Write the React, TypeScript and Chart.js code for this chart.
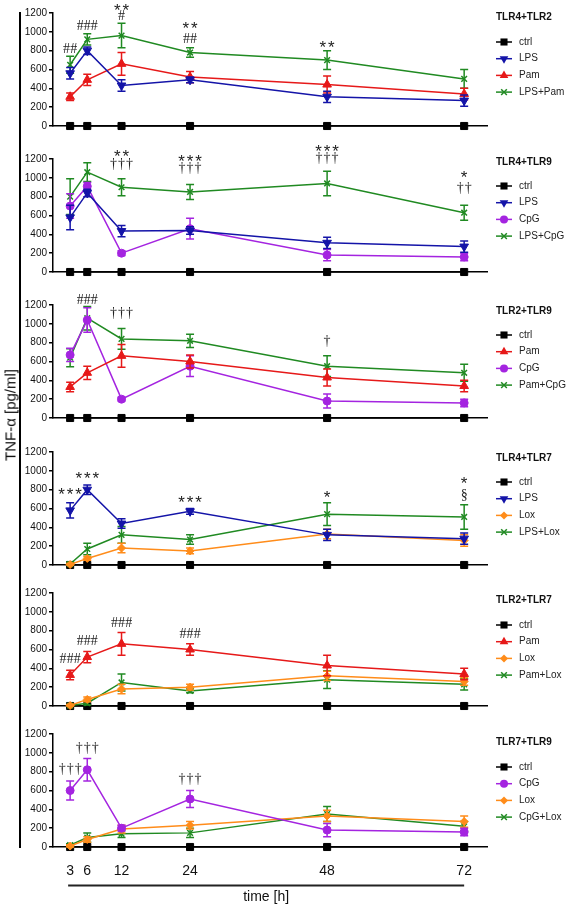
import React, { useEffect, useRef } from "react";
import { Chart, registerables } from "chart.js";

Chart.register(...registerables);

// ---------------- data ----------------
const HOURS = [3, 6, 12, 24, 48, 72];
const X_TICKS = [3, 6, 12, 24, 48, 72];
const Y_TICKS = [0, 200, 400, 600, 800, 1000, 1200];

const ctrlVals = [0, 0, 0, 0, 0, 0];

// Panel 1: TLR4+TLR2
const p1LPS = [560, 800, 430, 490, 310, 270];
const p1LPSErr = [60, 40, 60, 30, 60, 60];
const p1Pam = [310, 490, 660, 520, 440, 340];
const p1PamErr = [40, 60, 120, 60, 90, 60];
const p1Combo = [650, 920, 960, 780, 700, 500];
const p1ComboErr = [90, 60, 130, 50, 100, 100];
const p1Notes: [number, string, number][] = [
  [3, "##", 828], [6, "###", 1073], [12, "**", 1274], [12, "#", 1179],
  [24, "**", 1073], [24, "##", 935], [48, "**", 881],
];

// Panel 2: TLR4+TLR9
const p2LPS = [580, 840, 435, 440, 310, 270];
const p2LPSErr = [130, 40, 60, 40, 60, 60];
const p2CpG = [700, 910, 200, 460, 180, 160];
const p2CpGErr = [130, 40, 25, 110, 60, 40];
const p2Combo = [800, 1060, 900, 850, 940, 630];
const p2ComboErr = [190, 100, 90, 80, 130, 80];
const p2Notes: [number, string, number][] = [
  [12, "**", 1264], [12, "†††", 1147], [24, "***", 1221], [24, "†††", 1104],
  [48, "***", 1327], [48, "†††", 1211], [72, "*", 1051], [72, "††", 892],
];

// Panel 3: TLR2+TLR9
const p3Pam = [330, 480, 660, 600, 430, 340];
const p3PamErr = [50, 70, 120, 70, 90, 60];
const p3CpG = [670, 1040, 200, 550, 180, 160];
const p3CpGErr = [70, 130, 20, 110, 75, 40];
const p3Combo = [640, 1060, 840, 820, 550, 480];
const p3ComboErr = [95, 125, 110, 70, 110, 90];
const p3Notes: [number, string, number][] = [
  [6, "###", 1256], [12, "†††", 1108], [48, "†", 815],
];

// Panel 4: TLR4+TLR7
const p4LPS = [580, 800, 440, 570, 320, 280];
const p4LPSErr = [80, 50, 50, 30, 60, 60];
const p4Lox = [5, 70, 180, 150, 330, 260];
const p4LoxErr = [10, 20, 50, 30, 50, 60];
const p4Combo = [10, 170, 320, 270, 540, 510];
const p4ComboErr = [20, 60, 90, 50, 120, 130];
const p4Notes: [number, string, number][] = [
  [3, "***", 789], [6, "***", 961], [24, "***", 704], [48, "*", 757],
  [72, "*", 907], [72, "§", 746],
];

// Panel 5: TLR2+TLR7
const p5Pam = [330, 520, 660, 600, 430, 340];
const p5PamErr = [50, 60, 120, 60, 110, 60];
const p5Lox = [5, 70, 180, 200, 320, 260];
const p5LoxErr = [10, 25, 50, 30, 50, 40];
const p5Combo = [5, 30, 250, 160, 280, 230];
const p5ComboErr = [10, 20, 90, 20, 95, 60];
const p5Notes: [number, string, number][] = [
  [3, "###", 511], [6, "###", 703], [12, "###", 887], [24, "###", 767],
];

// Panel 6: TLR7+TLR9
const p6CpG = [600, 820, 200, 510, 180, 160];
const p6CpGErr = [100, 120, 30, 90, 70, 40];
const p6Lox = [10, 80, 190, 230, 330, 270];
const p6LoxErr = [15, 30, 40, 40, 60, 60];
const p6Combo = [20, 100, 140, 150, 350, 220];
const p6ComboErr = [15, 50, 40, 50, 80, 50];
const p6Notes: [number, string, number][] = [
  [3, "†††", 829], [6, "†††", 1052], [24, "†††", 723],
];

// ---------------- styles ----------------
const SANS = '"Liberation Sans", Arial, sans-serif';
const SERIF = '"Liberation Serif", "Times New Roman", serif';

type Sty = { color: string; point: string; rot: number; r: number };
const S_CTRL: Sty = { color: "#000000", point: "rect", rot: 0, r: 5 };
const S_LPS: Sty = { color: "#1414a8", point: "triangle", rot: 180, r: 5 };
const S_PAM: Sty = { color: "#e61919", point: "triangle", rot: 0, r: 5 };
const S_CPG: Sty = { color: "#a424e0", point: "circle", rot: 0, r: 4 };
const S_LOX: Sty = { color: "#ff8c1a", point: "rectRot", rot: 0, r: 4 };
const S_COMBO: Sty = { color: "#208a22", point: "crossRot", rot: 0, r: 4 };

type Series = { label: string; vals: number[]; err: number[] | null; sty: Sty };
type Panel = {
  title: string;
  top: number;
  series: Series[];
  notes: [number, string, number][];
  legTitle: number;
  legFirst: number;
};

const PLOT_H = 113;
const PAD_T = 30;

const PANELS: Panel[] = [
  {
    title: "TLR4+TLR2", top: 13, legTitle: 4, legFirst: 29, notes: p1Notes,
    series: [
      { label: "ctrl", vals: ctrlVals, err: null, sty: S_CTRL },
      { label: "LPS", vals: p1LPS, err: p1LPSErr, sty: S_LPS },
      { label: "Pam", vals: p1Pam, err: p1PamErr, sty: S_PAM },
      { label: "LPS+Pam", vals: p1Combo, err: p1ComboErr, sty: S_COMBO },
    ],
  },
  {
    title: "TLR4+TLR9", top: 159, legTitle: 3, legFirst: 27, notes: p2Notes,
    series: [
      { label: "ctrl", vals: ctrlVals, err: null, sty: S_CTRL },
      { label: "LPS", vals: p2LPS, err: p2LPSErr, sty: S_LPS },
      { label: "CpG", vals: p2CpG, err: p2CpGErr, sty: S_CPG },
      { label: "LPS+CpG", vals: p2Combo, err: p2ComboErr, sty: S_COMBO },
    ],
  },
  {
    title: "TLR2+TLR9", top: 305, legTitle: 6, legFirst: 30, notes: p3Notes,
    series: [
      { label: "ctrl", vals: ctrlVals, err: null, sty: S_CTRL },
      { label: "Pam", vals: p3Pam, err: p3PamErr, sty: S_PAM },
      { label: "CpG", vals: p3CpG, err: p3CpGErr, sty: S_CPG },
      { label: "Pam+CpG", vals: p3Combo, err: p3ComboErr, sty: S_COMBO },
    ],
  },
  {
    title: "TLR4+TLR7", top: 452, legTitle: 6, legFirst: 30, notes: p4Notes,
    series: [
      { label: "ctrl", vals: ctrlVals, err: null, sty: S_CTRL },
      { label: "LPS", vals: p4LPS, err: p4LPSErr, sty: S_LPS },
      { label: "Lox", vals: p4Lox, err: p4LoxErr, sty: S_LOX },
      { label: "LPS+Lox", vals: p4Combo, err: p4ComboErr, sty: S_COMBO },
    ],
  },
  {
    title: "TLR2+TLR7", top: 593, legTitle: 7, legFirst: 32, notes: p5Notes,
    series: [
      { label: "ctrl", vals: ctrlVals, err: null, sty: S_CTRL },
      { label: "Pam", vals: p5Pam, err: p5PamErr, sty: S_PAM },
      { label: "Lox", vals: p5Lox, err: p5LoxErr, sty: S_LOX },
      { label: "Pam+Lox", vals: p5Combo, err: p5ComboErr, sty: S_COMBO },
    ],
  },
  {
    title: "TLR7+TLR9", top: 734, legTitle: 8, legFirst: 33, notes: p6Notes,
    series: [
      { label: "ctrl", vals: ctrlVals, err: null, sty: S_CTRL },
      { label: "CpG", vals: p6CpG, err: p6CpGErr, sty: S_CPG },
      { label: "Lox", vals: p6Lox, err: p6LoxErr, sty: S_LOX },
      { label: "CpG+Lox", vals: p6Combo, err: p6ComboErr, sty: S_COMBO },
    ],
  },
];

// ---------------- drawing helpers ----------------
function drawMarker(ctx: CanvasRenderingContext2D, sty: Sty, x: number, y: number) {
  const r = sty.r;
  ctx.save();
  ctx.fillStyle = sty.color;
  ctx.strokeStyle = sty.color;
  ctx.lineWidth = 1.5;
  ctx.beginPath();
  if (sty.point === "rect") {
    const s = r * Math.SQRT1_2;
    ctx.rect(x - s, y - s, 2 * s, 2 * s);
    ctx.fill();
  } else if (sty.point === "triangle") {
    let rad = (sty.rot * Math.PI) / 180;
    ctx.moveTo(x + Math.sin(rad) * r, y - Math.cos(rad) * r);
    rad += (2 * Math.PI) / 3;
    ctx.lineTo(x + Math.sin(rad) * r, y - Math.cos(rad) * r);
    rad += (2 * Math.PI) / 3;
    ctx.lineTo(x + Math.sin(rad) * r, y - Math.cos(rad) * r);
    ctx.closePath();
    ctx.fill();
  } else if (sty.point === "circle") {
    ctx.arc(x, y, r, 0, Math.PI * 2);
    ctx.fill();
  } else if (sty.point === "rectRot") {
    ctx.moveTo(x, y - r);
    ctx.lineTo(x + r, y);
    ctx.lineTo(x, y + r);
    ctx.lineTo(x - r, y);
    ctx.closePath();
    ctx.fill();
  } else if (sty.point === "crossRot") {
    const d = r * Math.SQRT1_2;
    ctx.moveTo(x - d, y - d);
    ctx.lineTo(x + d, y + d);
    ctx.moveTo(x + d, y - d);
    ctx.lineTo(x - d, y + d);
    ctx.stroke();
  }
  ctx.restore();
}

function charFont(c: string) {
  if (c === "*") return { font: `17px ${SANS}`, off: 9.5, pitch: 8.5 };
  if (c === "#") return { font: `14px ${SERIF}`, off: 4.7, pitch: 7.1 };
  return { font: `14px ${SERIF}`, off: 3.8, pitch: 8 };
}

function drawNote(ctx: CanvasRenderingContext2D, text: string, cx: number, cy: number) {
  const chars = Array.from(text);
  const n = chars.length;
  const pitch = charFont(chars[0]).pitch;
  ctx.save();
  ctx.fillStyle = "#222222";
  ctx.textAlign = "center";
  ctx.textBaseline = "alphabetic";
  chars.forEach((c, i) => {
    const f = charFont(c);
    ctx.font = f.font;
    ctx.fillText(c, cx + (i - (n - 1) / 2) * pitch, cy + f.off);
  });
  ctx.restore();
}

const decorPlugin = {
  id: "panelDecor",
  afterDatasetDraw(chart: any, args: any) {
    const ds = chart.data.datasets[args.index];
    const err: number[] | null = ds.errors;
    if (!err) return;
    const ctx: CanvasRenderingContext2D = chart.ctx;
    const xs = chart.scales.x;
    const ys = chart.scales.y;
    ctx.save();
    ctx.strokeStyle = ds.borderColor;
    ctx.lineWidth = 1.5;
    ds.data.forEach((p: any, i: number) => {
      const e = err[i];
      if (!e) return;
      const px = xs.getPixelForValue(p.x);
      const yt = ys.getPixelForValue(p.y + e);
      const yb = Math.min(ys.getPixelForValue(Math.max(0, p.y - e)), chart.chartArea.bottom);
      ctx.beginPath();
      ctx.moveTo(px, yt);
      ctx.lineTo(px, yb);
      ctx.moveTo(px - 4, yt);
      ctx.lineTo(px + 4, yt);
      ctx.moveTo(px - 4, yb);
      ctx.lineTo(px + 4, yb);
      ctx.stroke();
    });
    ctx.restore();
  },
  afterDraw(chart: any) {
    const opts = chart.options.plugins.panelDecor;
    const panel: Panel = opts.panel;
    const ctx: CanvasRenderingContext2D = chart.ctx;
    const xs = chart.scales.x;
    const ys = chart.scales.y;
    const top = chart.chartArea.top;

    // significance annotations
    panel.notes.forEach(([h, txt, lvl]) => {
      drawNote(ctx, txt, xs.getPixelForValue(h), ys.getPixelForValue(lvl));
    });

    // legend
    const lx = 496;
    ctx.save();
    ctx.fillStyle = "#111111";
    ctx.font = `bold 10px ${SANS}`;
    ctx.textAlign = "left";
    ctx.textBaseline = "middle";
    ctx.fillText(panel.title, lx, top + panel.legTitle);
    ctx.font = `10px ${SANS}`;
    panel.series.forEach((s, i) => {
      const y = top + panel.legFirst + i * 16.7;
      ctx.strokeStyle = s.sty.color;
      ctx.lineWidth = 1.5;
      ctx.beginPath();
      ctx.moveTo(lx, y);
      ctx.lineTo(lx + 16, y);
      ctx.stroke();
      drawMarker(ctx, s.sty, lx + 8, y);
      ctx.fillStyle = "#222222";
      ctx.fillText(s.label, 519, y);
    });
    ctx.restore();

    // bottom time axis decoration
    if (opts.isLast) {
      const x0 = xs.getPixelForValue(X_TICKS[0]) - 2;
      const x1 = xs.getPixelForValue(X_TICKS[X_TICKS.length - 1]);
      const yb = chart.chartArea.bottom + 38.5;
      ctx.save();
      ctx.strokeStyle = "#222222";
      ctx.lineWidth = 2;
      ctx.beginPath();
      ctx.moveTo(x0, yb);
      ctx.lineTo(x1, yb);
      ctx.stroke();
      ctx.fillStyle = "#111111";
      ctx.font = `14px ${SANS}`;
      ctx.textAlign = "center";
      ctx.textBaseline = "middle";
      ctx.fillText("time [h]", (x0 + x1) / 2, yb + 12);
      ctx.restore();
    }
  },
};

function makeConfig(panel: Panel, isLast: boolean): any {
  const datasets = panel.series.map((s) => ({
    label: s.label,
    data: HOURS.map((h, i) => ({ x: h, y: s.vals[i] })),
    errors: s.err,
    borderColor: s.sty.color,
    backgroundColor: s.sty.color,
    pointBackgroundColor: s.sty.color,
    pointBorderColor: s.sty.color,
    pointStyle: s.sty.point,
    pointRotation: s.sty.rot,
    pointRadius: s.sty.r,
    pointBorderWidth: s.sty.point === "crossRot" ? 1.5 : 1,
    borderWidth: 1.5,
    tension: 0,
    fill: false,
    clip: false,
    order: s.label === "ctrl" ? 1 : 0,
  }));
  return {
    type: "line",
    data: { datasets },
    plugins: [decorPlugin],
    options: {
      animation: false,
      responsive: false,
      maintainAspectRatio: false,
      events: [],
      layout: { padding: { top: PAD_T, right: 80, left: 0, bottom: 0 } },
      plugins: {
        legend: { display: false },
        tooltip: { enabled: false },
        panelDecor: { panel, isLast },
      },
      scales: {
        x: {
          type: "linear",
          min: 0,
          max: 76,
          afterBuildTicks: (s: any) => {
            s.ticks = X_TICKS.map((v) => ({ value: v }));
          },
          afterFit: (s: any) => {
            s.height = isLast ? 59 : 16;
          },
          grid: { display: false, drawTicks: false },
          border: { display: true, color: "#000000", width: 1.5 },
          ticks: {
            display: isLast,
            color: "#111111",
            font: { size: 14, family: SANS },
            padding: 16,
            maxRotation: 0,
            autoSkip: false,
            callback: (v: any) => String(v),
          },
        },
        y: {
          min: 0,
          max: 1200,
          afterBuildTicks: (s: any) => {
            s.ticks = Y_TICKS.map((v) => ({ value: v }));
          },
          afterFit: (s: any) => {
            s.width = 53;
          },
          grid: {
            display: true,
            drawOnChartArea: false,
            drawTicks: true,
            tickLength: 4,
            color: "#000000",
            lineWidth: 1.5,
          },
          border: { display: true, color: "#000000", width: 1.5 },
          ticks: {
            color: "#111111",
            font: { size: 10, family: SANS },
            padding: 2,
            callback: (v: any) => String(v),
          },
        },
      },
    },
  };
}

function PanelChart({ panel, isLast }: { panel: Panel; isLast: boolean }) {
  const ref = useRef<HTMLCanvasElement | null>(null);
  const h = PAD_T + PLOT_H + (isLast ? 59 : 16);
  useEffect(() => {
    if (!ref.current) return;
    const chart = new Chart(ref.current, makeConfig(panel, isLast));
    return () => chart.destroy();
  }, [panel, isLast]);
  return (
    <canvas
      ref={ref}
      width={567}
      height={h}
      style={{ position: "absolute", left: 0, top: panel.top - PAD_T, width: 567, height: h }}
    />
  );
}

export default function App() {
  return (
    <div
      style={{
        position: "absolute",
        left: 0,
        top: 0,
        width: 567,
        height: 906,
        background: "#ffffff",
        overflow: "hidden",
      }}
    >
      {PANELS.map((p, i) => (
        <PanelChart key={p.title} panel={p} isLast={i === PANELS.length - 1} />
      ))}
      <div
        style={{
          position: "absolute",
          left: 19,
          top: 12,
          width: 2,
          height: 836,
          background: "#000000",
        }}
      />
      <div
        style={{
          position: "absolute",
          left: 10,
          top: 415,
          transform: "translate(-50%, -50%) rotate(-90deg)",
          font: `15px ${SANS}`,
          color: "#111111",
          whiteSpace: "nowrap",
        }}
      >
        TNF-α [pg/ml]
      </div>
    </div>
  );
}
